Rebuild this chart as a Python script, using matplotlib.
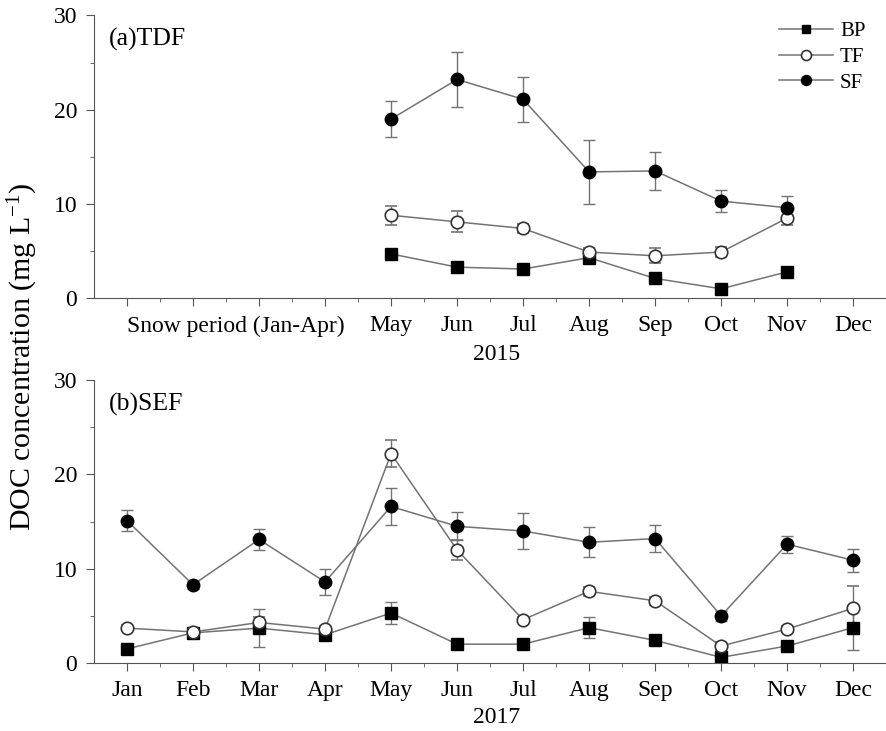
import matplotlib
matplotlib.use('Agg')
import matplotlib.pyplot as plt
from matplotlib.lines import Line2D
import numpy as np

plt.rcParams['font.family'] = ['Liberation Serif', 'DejaVu Serif']
plt.rcParams['mathtext.default'] = 'regular'

months = ['Jan', 'Feb', 'Mar', 'Apr', 'May', 'Jun', 'Jul', 'Aug', 'Sep', 'Oct', 'Nov', 'Dec']

# 2015 (TDF), May-Nov
x15 = [5, 6, 7, 8, 9, 10, 11]
bp15 = [4.7, 3.3, 3.1, 4.3, 2.1, 1.0, 2.8]
bp15_err = [0.3, 0.3, 0.3, 0.3, 0.3, 0.3, 0.3]
tf15 = [8.8, 8.1, 7.4, 4.9, 4.5, 4.9, 8.5]
tf15_err = [1.0, 1.1, 0.5, 0.4, 0.8, 0.5, 0.7]
sf15 = [19.0, 23.2, 21.1, 13.4, 13.5, 10.3, 9.6]
sf15_err = [1.9, 2.9, 2.4, 3.4, 2.0, 1.2, 1.2]

# 2017 (SEF), Jan-Dec
x17 = list(range(1, 13))
bp17 = [1.5, 3.2, 3.7, 3.0, 5.3, 2.0, 2.0, 3.75, 2.4, 0.6, 1.8, 3.75]
bp17_err = [0.3, 0.3, 2.0, 0.3, 1.2, 0.3, 0.3, 1.1, 0.3, 0.3, 0.3, 2.4]
tf17 = [3.7, 3.3, 4.3, 3.6, 22.2, 12.0, 4.6, 7.6, 6.6, 1.8, 3.6, 5.8]
tf17_err = [0.3, 0.3, 0.6, 0.3, 1.45, 1.05, 0.3, 0.5, 0.4, 0.4, 0.3, 2.4]
sf17 = [15.1, 8.3, 13.1, 8.6, 16.6, 14.5, 14.0, 12.8, 13.2, 5.0, 12.6, 10.9]
sf17_err = [1.1, 0.4, 1.1, 1.4, 2.0, 1.5, 1.9, 1.6, 1.45, 0.5, 0.9, 1.2]

line_c = '#737373'
styles = {
    'BP': dict(marker='s', ms=8, mfc='black', mec='black'),
    'TF': dict(marker='o', ms=9, mfc='white', mec='#333333', mew=1.2),
    'SF': dict(marker='o', ms=9, mfc='black', mec='black'),
}

fig = plt.figure(figsize=(8.87, 7.31), dpi=100)
ax1 = fig.add_axes([0.106, 0.592, 0.893, 0.387])
ax2 = fig.add_axes([0.106, 0.093, 0.893, 0.387])


def draw(ax, x, series):
    for name, y, e in series:
        ax.errorbar(x, y, yerr=e, color=line_c, lw=1.1, ecolor=line_c,
                    elinewidth=1.0, capsize=4.5, capthick=1.0, **styles[name])
    ax.set_xlim(0.5, 12.5)
    ax.set_ylim(0, 30)
    ax.set_yticks([0, 10, 20, 30])
    ax.set_yticks([5, 15, 25], minor=True)
    ax.set_xticks(range(1, 13))
    ax.set_xticks(np.arange(1.5, 12.6, 1), minor=True)
    for s in ['top', 'right']:
        ax.spines[s].set_visible(False)
    for s in ['left', 'bottom']:
        ax.spines[s].set_color('#555555')
    ax.tick_params(which='major', direction='out', length=6, color='#555555',
                   labelsize=17, pad=6)
    ax.tick_params(which='minor', direction='out', length=3, color='#555555')


draw(ax1, x15, [('BP', bp15, bp15_err), ('TF', tf15, tf15_err), ('SF', sf15, sf15_err)])
draw(ax2, x17, [('BP', bp17, bp17_err), ('TF', tf17, tf17_err), ('SF', sf17, sf17_err)])

ax1.set_xticklabels(['', '', '', ''] + months[4:])
ax2.set_xticklabels(months)

ax1.text(2.65, -2.95, 'Snow period (Jan-Apr)', ha='center', va='center', fontsize=17)
ax1.text(6.6, -6.0, '2015', ha='center', va='center', fontsize=17)
ax2.text(6.6, -5.8, '2017', ha='center', va='center', fontsize=17)

ax1.text(0.72, 27.4, '(a)TDF', fontsize=18.5, va='center')
ax2.text(0.72, 27.4, '(b)SEF', fontsize=18.5, va='center')

fig.text(0.026, 0.512, 'DOC concentration (mg L$^{-1}$)', rotation=90,
         ha='center', va='center', fontsize=21.5)

handles = [Line2D([], [], color=line_c, lw=1.1, **styles[n]) for n in ['BP', 'TF', 'SF']]
fig.legend(handles, ['BP', 'TF', 'SF'], loc='upper left',
           bbox_to_anchor=(0.866, 0.985), frameon=False, borderpad=0,
           fontsize=15, markerscale=0.8, handlelength=2.6, labelspacing=0.3,
           handletextpad=0.35)

fig.savefig('out.png', dpi=100)
